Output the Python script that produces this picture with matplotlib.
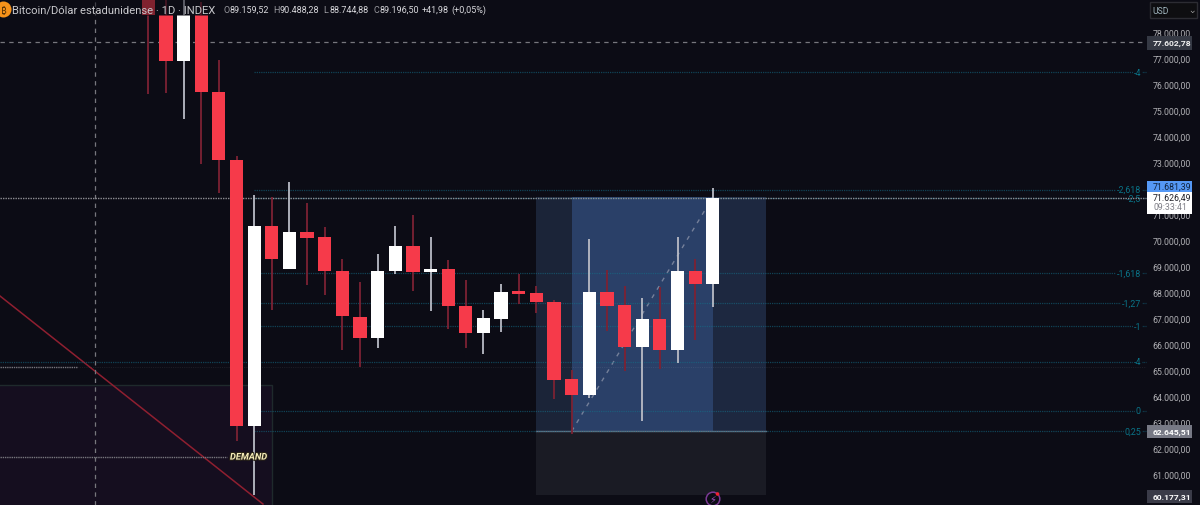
import matplotlib
matplotlib.use('Agg')
import matplotlib.pyplot as plt
import matplotlib.patheffects as pe
from matplotlib.patches import Rectangle, Circle
import numpy as np

plt.rcParams['font.family'] = ['Roboto', 'Noto Sans', 'Open Sans', 'Lato', 'Inter', 'DejaVu Sans']

# daily candles
opens = [80500, 78654, 76885, 78654, 75692, 73058, 62846, 70539, 68885, 70289, 70116, 68808,
         67039, 66212, 68808, 69769, 68769, 68885, 67462, 66423, 66962, 68040, 67962, 67616,
         64654, 64039, 68000, 67500, 65885, 66962, 65769, 68808, 68308]
closes = [78654, 76885, 78654, 75692, 73058, 62846, 70550, 69269, 70320, 70077, 68808, 67077,
          66231, 68808, 69769, 68769, 68885, 67462, 66423, 67000, 68000, 67930, 67616, 64616,
          64039, 68000, 67462, 65885, 66962, 65769, 68808, 68308, 71615]
highs = [81000, 81000, 81000, 79150, 76923, 73231, 71731, 71654, 72231, 71423, 70481, 69269,
         68385, 69462, 70539, 70962, 70116, 69231, 68462, 67308, 68308, 68692, 68231, 67692,
         65000, 70039, 68846, 68231, 67769, 68192, 70116, 69269, 71998]
lows = [75615, 75654, 74654, 72923, 71808, 62269, 60177, 67308, 68885, 68269, 67885, 65769,
        65116, 65846, 68692, 68039, 67269, 66577, 65846, 65616, 66462, 67538, 67193, 63885,
        62530, 63923, 66500, 64962, 63039, 65039, 65269, 66154, 67423]

# 72.000 and 60.000 sit behind the price tags, so they are left out
price_ticks = [p for p in range(61000, 79000, 1000) if p != 72000]

fib_levels = [76450, 71942, 71616, 68712, 67558, 66692, 65320, 63435, 62645]
fib_labels = ['-4', '-2,618', '-2,5', '-1,618', '-1,27', '-1', '-4', '0', '0,25']

crosshair_price = 77602.78
last_price = 71626.49
high_tag = 71681.39
entry_price = 62645.51
stop_price = 60177.31
box_top = 71650
demand_top = 64440
demand_mid = 61650
side_line = 65120
trend_start = 67846
trend_end = 59846


def br(v):
    s = f'{v:,.2f}'
    return s.replace(',', 'X').replace('.', ',').replace('X', '.')


BG = '#0c0c15'
RED = '#f63a4a'
RED_WICK = '#7c2233'
WHITE_WICK = '#b9bcc6'
TEAL = '#14708a'
TEAL_TXT = '#0a7488'
GREY = '#b0b0b4'

fig = plt.figure(figsize=(12, 5.06), dpi=100, facecolor=BG)
ax = fig.add_axes([0, 0, 1, 1], facecolor=BG)
ax.set_xlim(-148.3 / 17.64, (1200 - 148.3) / 17.64)
ax.set_ylim(59808, 79269)
ax.spines[:].set_visible(False)
ax.xaxis.set_visible(False)
ax.yaxis.tick_right()
ax.set_yticks(price_ticks)
ax.set_yticklabels([br(p) for p in price_ticks], color=GREY, fontsize=6.3)
ax.tick_params(axis='y', length=0, pad=-34)
left = ax.get_xlim()[0]
fib_end = left + 1146 / 17.64

# demand zone
ax.add_patch(Rectangle((left - 1, 59000), 8 - left, demand_top - 59000, fc='#150e1f', ec='#1f2a2c', lw=1, zorder=1))
ax.plot([left, 6.5], [trend_start, trend_end], color='#8f1f30', lw=1.1, zorder=2)
ax.plot([left, 4.45], [demand_mid, demand_mid], color='#77767d', lw=1, ls=(0, (1, 0.6)), zorder=2)
ax.plot([left, left + 77 / 17.64], [side_line, side_line], color='#77767d', lw=1, ls=(0, (1, 0.6)), zorder=2)
ax.plot([left + 77 / 17.64, fib_end], [side_line, side_line], color='white', alpha=0.07, lw=0.8, ls=(0, (1, 1)), zorder=2)

# long position box
ax.add_patch(Rectangle((22, entry_price), 2, box_top - entry_price, fc='#1b2438', lw=0, zorder=1))
ax.add_patch(Rectangle((24, entry_price), 8, box_top - entry_price, fc='#2a4068', lw=0, zorder=1))
ax.add_patch(Rectangle((32, entry_price), 3, box_top - entry_price, fc='#1d2840', lw=0, zorder=1))
ax.add_patch(Rectangle((22, stop_price), 13, entry_price - stop_price, fc='#1a1b24', lw=0, zorder=1))
ax.plot([22, 35], [entry_price, entry_price], color='#6a6f80', lw=1, zorder=2)
ax.plot([24, 32], [entry_price, box_top], color='#75809a', lw=1, ls=(0, (3, 4)), zorder=2)

# fib levels
for level, lab in zip(fib_levels, fib_labels):
    start = left if lab == '-4' and level < 70000 else 6
    ax.plot([start, fib_end], [level, level], color=TEAL, alpha=0.55, lw=0.9, ls=(0, (1, 0.8)), zorder=2)
    ax.text(left + 1141 / 17.64, level, lab, color=TEAL_TXT, fontsize=6.4, ha='right', va='center', zorder=3,
            bbox=dict(fc=BG, ec='none', pad=0.4))

# price line and crosshair
ax.plot([left, fib_end], [last_price, last_price], color='#8c8c92', lw=1, ls=(0, (1, 0.8)), zorder=3.5)
ax.plot([left, fib_end], [crosshair_price, crosshair_price], color='#77777d', lw=0.9, ls=(0, (3.5, 3.5)), zorder=2)
ax.axvline(left + 95 / 17.64, color='#77777d', lw=0.9, ls=(0, (3.5, 3.5)), zorder=2)

# candles
x = np.arange(len(opens))
opens = np.array(opens)
closes = np.array(closes)
up = closes >= opens
ax.vlines(x[~up], np.array(lows)[~up], np.array(highs)[~up], color=RED_WICK, lw=1.3, zorder=4)
ax.vlines(x[up], np.array(lows)[up], np.array(highs)[up], color=WHITE_WICK, lw=1.3, zorder=4)
ax.bar(x[~up], (opens - closes)[~up], bottom=closes[~up], width=0.75, color=RED, lw=0, zorder=5)
ax.bar(x[up], (closes - opens)[up], bottom=opens[up], width=0.75, color='white', lw=0, zorder=5)

ax.text(4.63, demand_mid, 'DEMAND', color='#f5ecb8', fontsize=6.7, fontweight='bold', style='italic',
        va='center', ha='left', zorder=6, path_effects=[pe.withStroke(linewidth=1.5, foreground='#2a2418')])

# overlay in pixels for the chart furniture
ui = fig.add_axes([0, 0, 1, 1], facecolor='none')
ui.set_xlim(0, 1200)
ui.set_ylim(506, 0)
ui.axis('off')

ui.add_patch(Rectangle((0, 0), 1200, 16.5, fc=BG, alpha=0.5, lw=0))
ui.add_patch(Circle((3.5, 10.5), 8, fc='#f7931a', lw=0))
ui.text(3.5, 10.5, '₿', color='#5a3404', fontsize=7, ha='center', va='center')
ui.text(12, 10.5, 'Bitcoin/Dólar estadunidense · 1D · INDEX', color='#c8c8cc', fontsize=8.1, va='center')

for px, key, val in [(223, 'O', '89.159,52'), (273, 'H', '90.488,28'), (323, 'L', '88.744,88'), (373, 'C', '89.196,50')]:
    ui.text(px, 10.5, key, color='#9a9aa0', fontsize=6.5, va='center')
    ui.text(px + 6.5, 10.5, val, color='#d8d8dc', fontsize=6.5, va='center')
ui.text(422, 10.5, '+41,98', color='#d8d8dc', fontsize=6.5, va='center')
ui.text(451, 10.5, '(+0,05%)', color='#d8d8dc', fontsize=6.5, va='center')

ui.add_patch(Rectangle((1150, 3), 47, 16, fc='#0e0e11', ec='#2c2c33', lw=1))
ui.text(1152, 11, 'USD', color='#9fb4bd', fontsize=6.2, va='center')
ui.text(1192, 11, '⌄', color='#c0c0c0', fontsize=5, va='center', ha='center')

tags = [(36.5, 14.5, '#353944', br(crosshair_price), '#f0f0f0'),
        (426, 12.5, '#777985', br(entry_price), 'white'),
        (491, 12.5, '#3a3b48', br(stop_price), 'white')]
for y0, h, fc, txt, col in tags:
    ui.add_patch(Rectangle((1147, y0), 45, h, fc=fc, lw=0))
    ui.text(1152.5, y0 + h / 2, txt, color=col, fontsize=6.1, fontweight='bold', va='center')

ui.add_patch(Rectangle((1147, 182), 45, 10.5, fc='#5598f5', lw=0))
ui.text(1153, 187, br(high_tag), color='#10233f', fontsize=6.3, va='center')
ui.add_patch(Rectangle((1147, 192.5), 45, 22, fc='white', lw=0))
ui.text(1153, 198.5, br(last_price), color='#202028', fontsize=6.3, va='center')
ui.text(1153, 208, '09:33:41', color='#808088', fontsize=6.3, va='center')

ui.add_patch(Circle((713, 500), 6.8, fc=BG, ec='#7b3a94', lw=1.1))
ui.text(713, 500, '⚡', color='#a050c0', fontsize=7, ha='center', va='center')
ui.add_patch(Circle((717.5, 495), 1.8, fc='#f02030', lw=0))

fig.savefig('out.png', dpi=100, facecolor=BG)
